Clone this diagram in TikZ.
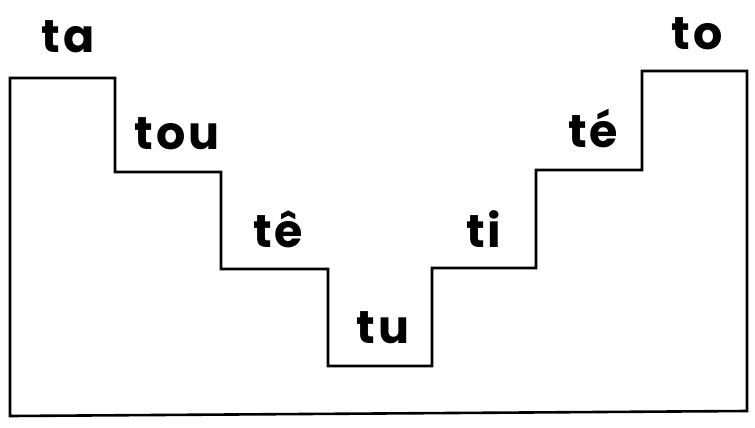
\documentclass[tikz,border=0pt]{standalone}
\usepackage{fontspec}
\setmainfont{Poppins}
\newfontfamily\sylfont[LetterSpace=6]{Poppins}
\begin{document}
\begin{tikzpicture}[x=1pt,y=-1pt,
  outline/.style={line width=2.6pt,line join=miter},
  syl/.style={anchor=base,inner sep=0pt,font=\sylfont\fontsize{46}{50}\selectfont\bfseries}]
\useasboundingbox (0,0) rectangle (755,428);
\draw[outline] (10,78) -- (115,78) -- (115,172) -- (221,172) -- (221,269)
  -- (328,269) -- (328,366) -- (432,366) -- (432,268) -- (536,268)
  -- (536,170) -- (642,170) -- (642,71) -- (747,71) -- (747,411)
  -- (10,416) -- cycle;
\node[syl] (ta)  at (68,53)  {ta};
\node[syl] (tou) at (177,149) {tou};
\node[syl] (te)  at (278,247) {tê};
\node[syl] (tu)  at (383,343) {tu};
\node[syl] (ti)  at (484,247) {ti};
\node[syl] (tee) at (593,147) {té};
\node[syl] (to)  at (697,49)  {to};
\end{tikzpicture}
\end{document}
